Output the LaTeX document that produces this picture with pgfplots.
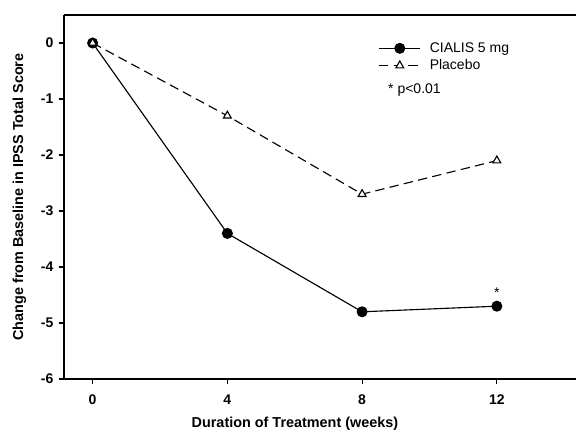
\documentclass[border=0pt]{standalone}
\usepackage{pgfplots}
\pgfplotsset{compat=1.18}
\usetikzlibrary{calc}
\usepackage{fontspec}
\setmainfont{Liberation Sans}

\begin{document}
\begin{tikzpicture}
\begin{axis}[
	name=ax,
	scale only axis,
	width=384pt, height=273pt,
	xmin=-0.85, xmax=14.35,
	ymin=-6, ymax=0.5,
	axis x line*=box,
	axis y line*=left,
	axis line style={line width=1pt},
	tick align=outside,
	xtick pos=bottom,
	major tick length=4pt,
	tick style={line width=0.8pt, black},
	xtick={0,4,8,12},
	xticklabels={0,4,8,12},
	ytick={-6,-5,-4,-3,-2,-1,0},
	yticklabels={-6,-5,-4,-3,-2,-1,0},
	ticklabel style={font=\bfseries\fontsize{10.5}{12}\selectfont},
	xticklabel style={yshift=-4.5pt},
	yticklabel style={xshift=-0.5pt},
	xlabel={Duration of Treatment (weeks)},
	ylabel={Change from Baseline in IPSS Total Score},
	label style={font=\bfseries\fontsize{10.8}{12}\selectfont},
	x label style={at={(rel axis cs:0.451,-0.124)}, anchor=center},
	y label style={at={(rel axis cs:-0.087,0.5)}, anchor=center},
	legend cell align=left,
	legend style={at={(rel axis cs:0.606,0.940)}, anchor=north west,
		draw=none, fill=none, font=\fontsize{10.5}{12}\selectfont,
		row sep=0pt},
	legend image code/.code={
		\draw[mark repeat=2, mark phase=2]
		plot coordinates {(0cm,0cm) (0.545cm,0cm) (1.09cm,0cm)};
		\path (1.25cm,0cm);
	},
]
\addplot[black, line width=0.85pt, mark=*, mark size=3.7pt,
	mark options={solid, fill=black}]
coordinates {(0,0) (4,-3.4) (8,-4.8) (12,-4.7)};
\addlegendentry{CIALIS 5 mg}

\addplot[black, line width=0.85pt, dash pattern=on 7pt off 4pt,
	mark=triangle*, mark size=3.4pt, mark options={solid, fill=white}]
coordinates {(0,0) (4,-1.3) (8,-2.7) (12,-2.1)};
\addlegendentry{Placebo}

\node[anchor=west, font=\fontsize{10.5}{12}\selectfont]
	at (rel axis cs:0.624,0.794) {* p<0.01};
\node[above=3pt, font=\fontsize{10.5}{12}\selectfont] at (axis cs:12,-4.7) {*};
\end{axis}
\pgfresetboundingbox
\path[use as bounding box] ($(ax.south west)+(-48pt,-44.25pt)$) rectangle ($(ax.north east)+(0,11.25pt)$);
\end{tikzpicture}
\end{document}
